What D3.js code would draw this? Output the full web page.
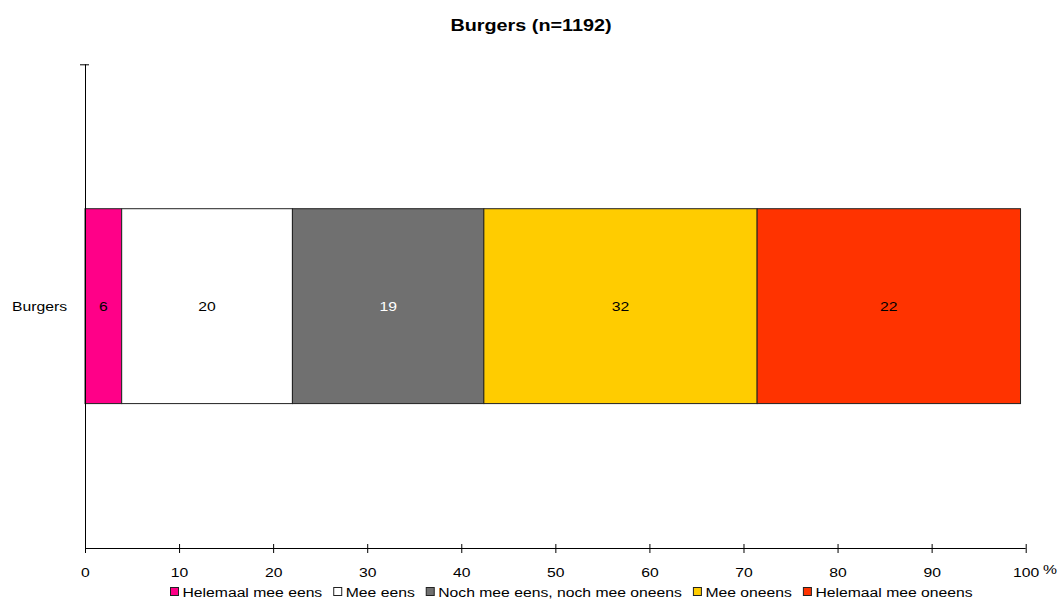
<!DOCTYPE html>
<html>
<head>
<meta charset="utf-8">
<script src="https://cdn.jsdelivr.net/npm/d3@7"></script>
<style>
  body { margin: 0; background: #fff; }
  svg { display: block; }
  text { font-family: "Liberation Sans", Arial, sans-serif; }
</style>
</head>
<body>
<svg id="chart" width="1058" height="602"></svg>
<script>
// ---- data ----
const title = "Burgers (n=1192)";
const categories = ["Burgers"];
const seriesNames = ["Helemaal mee eens", "Mee eens", "Noch mee eens, noch mee oneens", "Mee oneens", "Helemaal mee oneens"];
const seriesValues = [3.9, 18.15, 20.35, 29.05, 28.0];   // segment widths as drawn (%)
const seriesLabels = ["6", "20", "19", "32", "22"];      // labels printed in the segments
const seriesColors = ["#FF0088", "#FFFFFF", "#707070", "#FFCC00", "#FF3300"];
const labelColors = ["#000", "#000", "#fff", "#000", "#000"];
const xTicks = [0, 10, 20, 30, 40, 50, 60, 70, 80, 90, 100];
const axisUnit = "%";

// ---- layout ----
const SX = 1.165; // horizontal stretch of text as in the reference
const FS = 13.5;
const svg = d3.select("#chart");
const plotLeft = 85, plotRight = 1025.7, plotTop = 64.3, plotBottom = 548;

const x = d3.scaleLinear().domain([0, 100]).range([plotLeft, plotRight]);
const y = d3.scaleBand().domain(categories).range([plotTop, plotBottom]).paddingInner(0).paddingOuter(0.741);

function stretchedText(g, tx, ty, str, anchor, sx) {
  return g.append("text")
    .attr("transform", `translate(${tx},${ty}) scale(${sx || SX},1)`)
    .attr("text-anchor", anchor || "start")
    .text(str);
}

// title
stretchedText(svg, 531, 31, title, "middle", 1.2)
  .attr("font-size", 16.5).attr("font-weight", "bold").attr("fill", "#000");

// bars
const stacked = [];
let acc = 0;
seriesValues.forEach((v, i) => { stacked.push({ i, x0: acc, x1: acc + v }); acc += v; });

const barG = svg.append("g");
categories.forEach(cat => {
  barG.selectAll("rect.seg").data(stacked).enter().append("rect")
    .attr("class", "seg")
    .attr("x", d => x(d.x0))
    .attr("width", d => x(d.x1) - x(d.x0))
    .attr("y", y(cat))
    .attr("height", y.bandwidth())
    .attr("fill", d => seriesColors[d.i])
    .attr("stroke", "#222")
    .attr("stroke-width", 1);
  barG.selectAll("g.lab").data(stacked).enter().append("g").attr("class", "lab")
    .each(function(d) {
      stretchedText(d3.select(this), (x(d.x0) + x(d.x1)) / 2, y(cat) + y.bandwidth() / 2 + 5, seriesLabels[d.i], "middle")
        .attr("font-size", FS).attr("fill", labelColors[d.i]);
    });
});

// x axis
const xAxis = d3.axisBottom(x).tickValues(xTicks).tickSize(4).tickSizeOuter(0).tickFormat(d3.format("d"));
const xg = svg.append("g").attr("transform", `translate(0,${plotBottom})`).call(xAxis);
xg.select(".domain").attr("stroke", "#000").attr("d", `M${plotLeft},0.5H${plotRight}`);
xg.selectAll(".tick line").attr("y1", -4).attr("y2", 5).attr("stroke", "#000");
xg.selectAll(".tick text")
  .attr("y", 0).attr("dy", 0)
  .attr("transform", `translate(0,29) scale(${SX},1)`)
  .attr("font-size", FS).attr("font-family", "Liberation Sans, Arial, sans-serif").attr("fill", "#000");
stretchedText(svg, 1043, 574, axisUnit, "start").attr("font-size", FS).attr("fill", "#000");

// y axis
const yAxis = d3.axisLeft(y).tickSize(0).tickFormat("");
const yg = svg.append("g").attr("transform", `translate(${plotLeft},0)`).call(yAxis);
yg.select(".domain").attr("stroke", "#000").attr("d", `M0.5,${plotTop}V${plotBottom}`);
yg.append("line").attr("x1", -5).attr("x2", 4).attr("y1", plotTop + 0.5).attr("y2", plotTop + 0.5).attr("stroke", "#000");
categories.forEach(cat => {
  stretchedText(svg, 67, y(cat) + y.bandwidth() / 2 + 5, cat, "end").attr("font-size", FS).attr("fill", "#000");
});

// legend
const lg = svg.append("g");
let lx = 170;
seriesNames.forEach((name, i) => {
  lg.append("rect").attr("x", lx + 0.5).attr("y", 587.5).attr("width", 8).attr("height", 8)
    .attr("fill", seriesColors[i]).attr("stroke", "#222").attr("stroke-width", 1);
  const t = stretchedText(lg, lx + 12.5, 596.5, name, "start").attr("font-size", FS).attr("fill", "#000");
  const w = t.node().getComputedTextLength() * SX;
  lx += 12.5 + w + 11;
});
</script>
</body>
</html>
